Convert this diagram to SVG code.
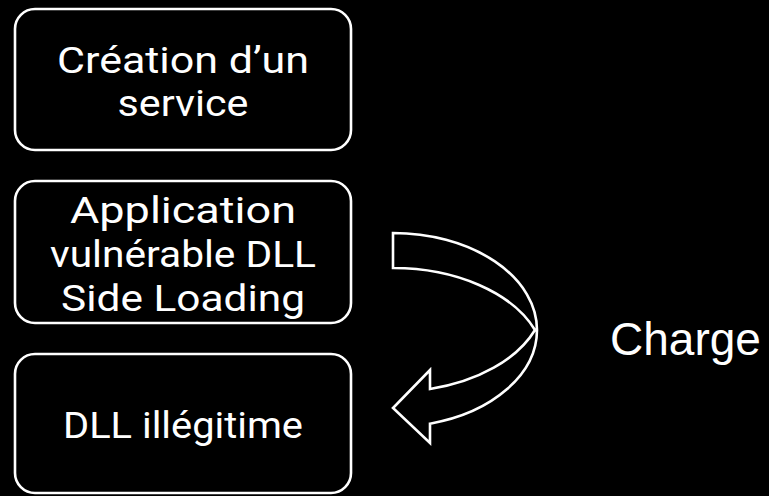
<svg xmlns="http://www.w3.org/2000/svg" width="769" height="496" viewBox="0 0 769 496">
  <style>
    .box { fill: #000; stroke: #fff; stroke-width: 2.6; }
    .lbl { fill: #fff; font-family: Roboto, "Liberation Sans", sans-serif; font-size: 36px; text-anchor: middle; }
    .side { fill: #fff; font-family: "Liberation Sans", Arial, sans-serif; font-size: 46px; }
    .curve { fill: none; stroke: #fff; stroke-width: 2.6; stroke-linejoin: miter; }
  </style>
  <rect x="0" y="0" width="769" height="496" fill="#000"/>

  <g id="creation-service">
    <rect class="box" x="15" y="9" width="336" height="141" rx="20"/>
    <text class="lbl" x="183" y="72.5" textLength="252" lengthAdjust="spacingAndGlyphs">Création d’un</text>
    <text class="lbl" x="183" y="115.5" textLength="131" lengthAdjust="spacingAndGlyphs">service</text>
  </g>

  <g id="application-vulnerable">
    <rect class="box" x="15" y="181" width="336" height="142" rx="20"/>
    <text class="lbl" x="183" y="223" textLength="226" lengthAdjust="spacingAndGlyphs">Application</text>
    <text class="lbl" x="183" y="267" textLength="266" lengthAdjust="spacingAndGlyphs">vulnérable DLL</text>
    <text class="lbl" x="183" y="310.5" textLength="244" lengthAdjust="spacingAndGlyphs">Side Loading</text>
  </g>

  <g id="dll-illegitime">
    <rect class="box" x="15" y="354" width="336" height="139" rx="20"/>
    <text class="lbl" x="183" y="438" textLength="240" lengthAdjust="spacingAndGlyphs">DLL illégitime</text>
  </g>

  <g id="connectors">
    <!-- curved block arrow looping from the middle box back to the bottom box -->
    <path class="curve" d="M393,233 A144,97 0 0 1 537,330 A144,97 0 0 1 430,423.7 L430,443 L393,408 L430,370 L430,389 A152,97 0 0 0 535,330 A152,97 0 0 0 393,268 Z"/>
    <text class="side" x="610" y="355">Charge</text>
  </g>
</svg>
